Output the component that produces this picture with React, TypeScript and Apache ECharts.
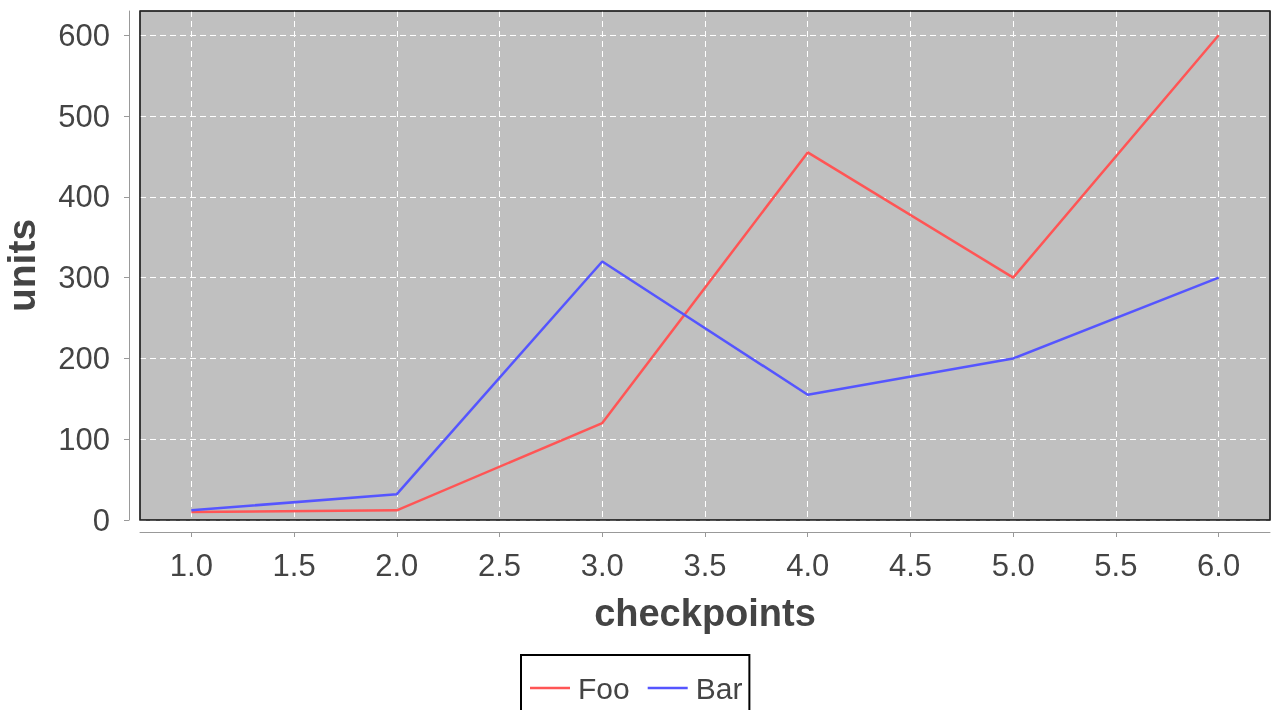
import React, { useEffect, useRef } from "react";
import * as echarts from "echarts";

const xValues = [1, 2, 3, 4, 5, 6];
const fooValues = [10, 12, 120, 455, 300, 600];
const barValues = [12, 32, 320, 155, 200, 300];
const xTicks = [1.0, 1.5, 2.0, 2.5, 3.0, 3.5, 4.0, 4.5, 5.0, 5.5, 6.0];
const yTicks = [0, 100, 200, 300, 400, 500, 600];
const seriesNames = ["Foo", "Bar"];

export default function App() {
  const ref = useRef<HTMLDivElement>(null);
  useEffect(() => {
    if (!ref.current) return;
    const chart = echarts.init(ref.current, null, { renderer: "svg" });
    const font = "'Liberation Sans', Arial, sans-serif";
    chart.setOption({
      animation: false,
      textStyle: { fontFamily: font },
      grid: {
        left: 140,
        right: 2,
        top: 11,
        bottom: 190,
        show: true,
        outerBoundsMode: "none",
        containLabel: false,
        backgroundColor: "#c0c0c0",
        borderColor: "#333",
        borderWidth: 1,
      },
      graphic: [
        {
          type: "rect",
          z: 100,
          silent: true,
          shape: { x: 140, y: 11, width: 1130, height: 509 },
          style: { fill: "none", stroke: "#222", lineWidth: 1.5 },
        },
      ],
      legend: {
        data: seriesNames.map((n) => ({ name: n, icon: "rect" })),
        left: 521,
        top: 655,
        orient: "horizontal",
        padding: [18, 7, 18, 9],
        itemWidth: 40,
        itemHeight: 2.5,
        itemGap: 18,
        borderColor: "#000",
        borderWidth: 2,
        textStyle: { fontSize: 30, color: "#444", fontFamily: font, padding: [0, 0, 0, 3] },
      },
      xAxis: {
        type: "value",
        min: 0.75,
        max: 6.25,
        offset: 12,
        name: "checkpoints",
        nameLocation: "middle",
        nameGap: 62,
        nameTextStyle: { fontSize: 38, fontWeight: "bold", color: "#444", fontFamily: font },
        axisLine: { show: true, onZero: false, lineStyle: { color: "#999", width: 1 } },
        axisTick: { show: true, length: 5, customValues: xTicks, lineStyle: { color: "#999" } },
        axisLabel: {
          customValues: xTicks,
          fontSize: 31,
          color: "#444",
          margin: 18,
          formatter: (v: number) => v.toFixed(1),
        },
        splitLine: {
          show: true,
          customValues: xTicks,
          lineStyle: { color: "#fff", type: [6, 4], width: 1 },
        },
      },
      yAxis: {
        type: "value",
        min: 0,
        max: 630,
        offset: 11,
        name: "units",
        nameLocation: "middle",
        nameRotate: 90,
        nameGap: 88,
        nameTextStyle: { fontSize: 39, fontWeight: "bold", color: "#444", fontFamily: font },
        axisLine: { show: true, lineStyle: { color: "#999", width: 1 } },
        axisTick: { show: true, length: 5, customValues: yTicks, lineStyle: { color: "#999" } },
        axisLabel: { customValues: yTicks, fontSize: 31, color: "#444", margin: 19 },
        splitLine: {
          show: true,
          customValues: yTicks,
          lineStyle: { color: "#fff", type: [6, 4], width: 1 },
        },
      },
      series: [
        {
          name: seriesNames[0],
          type: "line",
          data: xValues.map((x, i) => [x, fooValues[i]]),
          symbol: "none",
          color: "#ff5555",
          lineStyle: { width: 2.5, color: "#ff5555" },
        },
        {
          name: seriesNames[1],
          type: "line",
          data: xValues.map((x, i) => [x, barValues[i]]),
          symbol: "none",
          color: "#5555ff",
          lineStyle: { width: 2.5, color: "#5555ff" },
        },
      ],
    });
    return () => chart.dispose();
  }, []);
  return (
    <div
      ref={ref}
      style={{ position: "fixed", left: 0, top: 0, width: 1272, height: 710 }}
    />
  );
}
